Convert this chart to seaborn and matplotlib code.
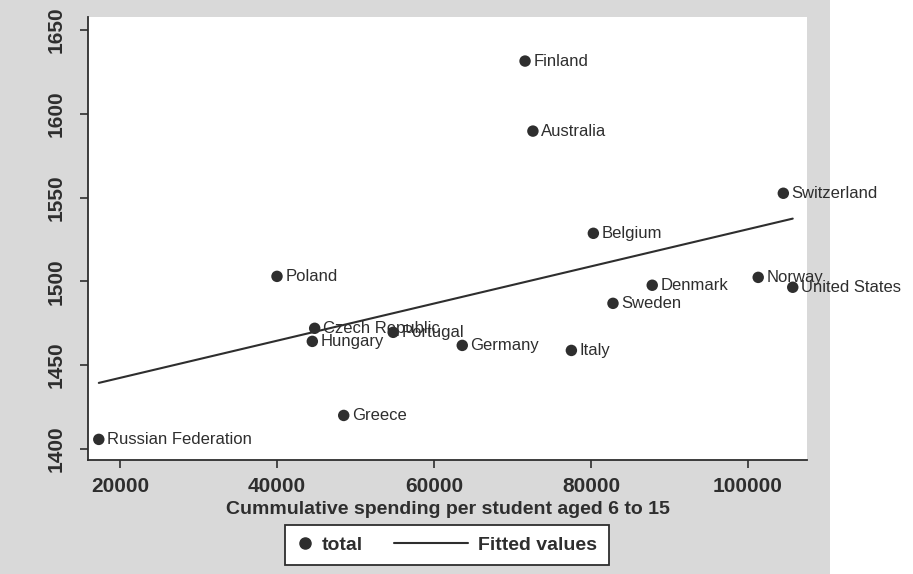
import matplotlib
matplotlib.use("Agg")
import matplotlib.pyplot as plt
from matplotlib.patches import Rectangle
from matplotlib.lines import Line2D
from matplotlib.legend_handler import HandlerLine2D
import numpy as np
import pandas as pd
import seaborn as sns

# Cumulative spending per student aged 6-15 vs. total score, by country
countries = ["Finland", "Australia", "Switzerland", "Belgium", "Denmark",
             "Norway", "United States", "Sweden", "Italy", "Germany",
             "Portugal", "Poland", "Czech Republic", "Hungary", "Greece",
             "Russian Federation"]
spending = [71600, 72600, 104500, 80300, 87800,
            101300, 105700, 82800, 77500, 63600,
            54800, 40000, 44800, 44500, 48500,
            17300]
total = [1631.5, 1589.7, 1552.6, 1528.7, 1497.7,
         1502.4, 1496.5, 1486.9, 1458.8, 1461.8,
         1469.6, 1503.0, 1472.0, 1464.2, 1420.0,
         1405.7]

x_ticks = [20000, 40000, 60000, 80000, 100000]
y_ticks = [1400, 1450, 1500, 1550, 1600, 1650]

df = pd.DataFrame({"country": countries, "spending": spending, "total": total})

sns.set_theme(style="ticks")
plt.rcParams["font.family"] = ["Liberation Sans", "DejaVu Sans"]


class LongLineHandler(HandlerLine2D):
    """Legend line that reaches further left than the handle box."""

    def __init__(self, extra_pts, **kw):
        super().__init__(**kw)
        self.extra_pts = extra_pts

    def get_xdata(self, legend, xdescent, ydescent, width, height, fontsize):
        xd, xdm = super().get_xdata(legend, xdescent, ydescent, width, height, fontsize)
        xd = np.asarray(xd, dtype=float).copy()
        xd[0] -= self.extra_pts
        return xd, xdm


W, H = 913, 574
fig = plt.figure(figsize=(W / 100, H / 100), dpi=100)
fig.patch.set_facecolor("white")

# page tone around the graph
fig.patches.append(Rectangle((0, 0), 830 / W, 1, transform=fig.transFigure,
                             facecolor="#d9d9d9", edgecolor="none", zorder=-10))

ax = fig.add_axes([88 / W, 1 - 460 / H, (807 - 88) / W, (460 - 17) / H])
ax.set_facecolor("white")

ink = "#2e2e2e"
sns.scatterplot(data=df, x="spending", y="total", ax=ax, color=ink,
                s=68, edgecolor="none", zorder=3, legend=False)
sns.regplot(data=df, x="spending", y="total", ax=ax, scatter=False, ci=None,
            truncate=True, color=ink, line_kws={"lw": 1.5, "zorder": 2})

for c, xv, yv in zip(countries, spending, total):
    ax.annotate(c, (xv, yv), xytext=(6, 0), textcoords="offset points",
                va="center", ha="left", fontsize=12, color=ink, zorder=4)

ax.set_xlim(15924, 107516)
ax.set_ylim(1393.4, 1657.8)
ax.set_xticks(x_ticks)
ax.set_yticks(y_ticks)
ax.set_xticklabels([str(t) for t in x_ticks], fontsize=15, fontweight="bold", color=ink)
ax.set_yticklabels([str(t) for t in y_ticks], fontsize=15, fontweight="bold",
                   color=ink, rotation=90, va="center")
ax.tick_params(axis="x", length=6, width=1.2, color=ink, pad=6)
ax.tick_params(axis="y", length=6, width=1.2, color=ink, pad=10)

for s in ("top", "right"):
    ax.spines[s].set_visible(False)
for s in ("left", "bottom"):
    ax.spines[s].set_color(ink)
    ax.spines[s].set_linewidth(1.3)

ax.set_xlabel("Cummulative spending per student aged 6 to 15", fontsize=14,
              fontweight="bold", color=ink, labelpad=4)
ax.set_ylabel("")

dot = Line2D([], [], marker="o", ls="none", color=ink, markersize=8)
fit = Line2D([], [], color=ink, lw=1.5)
leg = fig.legend([dot, fit], ["total", "Fitted values"], ncol=2,
                 loc="center", bbox_to_anchor=(447 / W, 1 - 545 / H),
                 fontsize=14, frameon=True, fancybox=False, handlelength=0.8,
                 columnspacing=4.6, handletextpad=0.5, borderpad=0.6,
                 handler_map={fit: LongLineHandler(42)})
leg.get_frame().set_edgecolor(ink)
leg.get_frame().set_linewidth(1.3)
leg.get_frame().set_facecolor("white")
leg.get_frame().set_alpha(1)
for t in leg.get_texts():
    t.set_fontweight("bold")
    t.set_color(ink)

fig.savefig("out.png", dpi=100, facecolor=fig.get_facecolor())
